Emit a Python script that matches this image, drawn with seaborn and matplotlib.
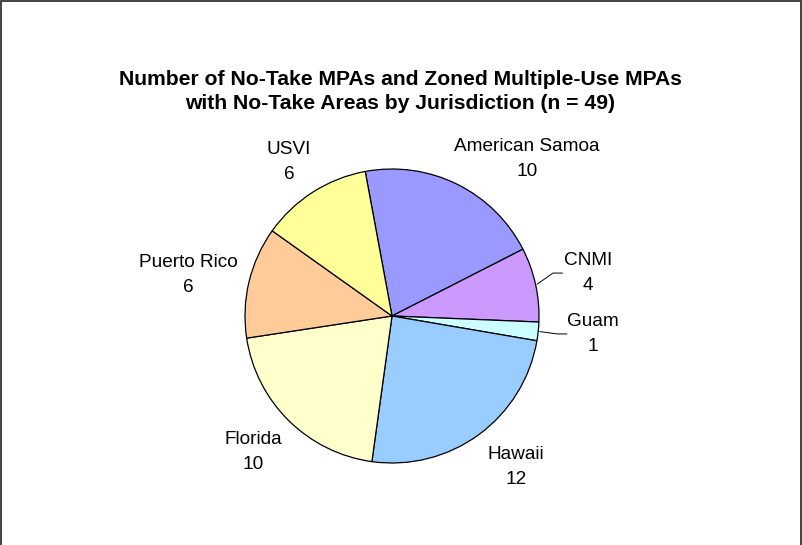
import matplotlib
matplotlib.use("Agg")
import matplotlib.pyplot as plt
import seaborn as sns
import numpy as np
from matplotlib.patches import Rectangle

# ---- data ----
jurisdictions = ["American Samoa", "CNMI", "Guam", "Hawaii", "Florida", "Puerto Rico", "USVI"]
counts = [10, 4, 1, 12, 10, 6, 6]
colors = ["#9999FF", "#CC99FF", "#CCFFFF", "#99CCFF", "#FFFFCC", "#FFCC99", "#FFFF99"]
title = "Number of No-Take MPAs and Zoned Multiple-Use MPAs\nwith No-Take Areas by Jurisdiction (n = 49)"

# label block centres (layout, in pie-radius units)
label_pos = [(0.92, 1.07), (1.335, 0.292), (1.365, -0.122), (0.844, -1.027),
             (-0.946, -0.925), (-1.388, 0.279), (-0.701, 1.047)]
leader = [False, True, True, False, False, False, False]

sns.set_theme(style="white")
plt.rcParams["font.family"] = ["Liberation Sans", "DejaVu Sans"]
plt.rcParams["text.color"] = "black"

W, H = 803, 545
fig = plt.figure(figsize=(W / 100, H / 100), dpi=100)
ax = fig.add_axes([0, 0, 1, 1])

cx, cy, R = 392.0, 316.0, 147.0
wedges, texts = ax.pie(counts, colors=colors, startangle=100.5, counterclock=False,
                       labels=[f"{j}\n{c}" for j, c in zip(jurisdictions, counts)],
                       wedgeprops=dict(edgecolor="black", linewidth=0.9),
                       textprops=dict(fontsize=13.7, color="black"))

for t, (lx, ly) in zip(texts, label_pos):
    t.set_position((lx, ly))
    t.set_ha("center")
    t.set_va("center")
    t.set_multialignment("center")
    t.set_linespacing(1.6)

# leader lines for the small slices
for w, (lx, ly), use in zip(wedges, label_pos, leader):
    if not use:
        continue
    mid = np.deg2rad((w.theta1 + w.theta2) / 2)
    sx, sy = 1.01 * np.cos(mid), 1.01 * np.sin(mid)
    ey = ly + 0.0
    ex = lx - 0.175
    ax.plot([sx, ex - 0.065, ex], [sy, ey, ey], color="black", lw=0.7)

ax.set_aspect("auto")
ax.set_xlim(-cx / R, (W - cx) / R)
ax.set_ylim(-(H - cy) / R, cy / R)
ax.axis("off")

fig.text(400.5 / W, 1 - 91.5 / H, title, ha="center", va="center", color="black",
         fontsize=15.2, fontweight="bold", linespacing=1.35)

fig.patches.append(Rectangle((1 / W, -0.05), 800 / W, 1.05 - 1.5 / H,
                             transform=fig.transFigure, fill=False,
                             edgecolor="#222222", linewidth=1.2))

fig.savefig("out.png", dpi=100)
